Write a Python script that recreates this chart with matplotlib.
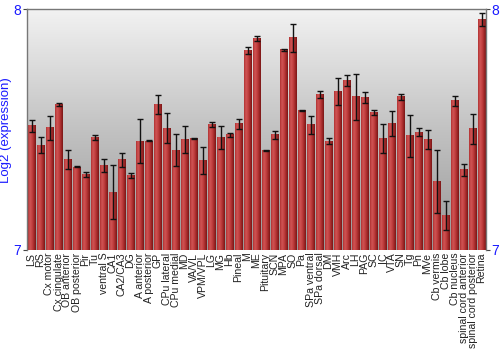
"""
Log2 expression per brain region, bar chart with error bars.
"""
import numpy as np
import matplotlib
matplotlib.use('Agg')
import matplotlib.pyplot as plt
from matplotlib.colors import LinearSegmentedColormap

regions = ['LS', 'RS', 'Cx motor', 'Cx cingulate', 'OB anterior', 'OB posterior', 'Pir', 'Tu',
           'ventral S', 'CA1', 'CA2/CA3', 'DG', 'A anterior', 'A posterior', 'GP', 'CPu lateral',
           'CPu medial', 'MD', 'VA/VL', 'VPM/VPL', 'LG', 'MG', 'Hb', 'Pineal', 'M', 'ME',
           'Pituitary', 'SCN', 'MPA', 'SO', 'Pa', 'SPa ventral', 'SPa dorsal', 'DM', 'VMH', 'Arc',
           'LH', 'PAG', 'SC', 'IC', 'VTA', 'SN', 'Tg', 'Pn', 'MVe', 'Cb vermis', 'Cb lobe',
           'Cb nucleus', 'spinal cord anterior', 'spinal cord posterior', 'Retina']

expression = [7.517, 7.435, 7.508, 7.605, 7.375, 7.345, 7.314, 7.467,
              7.350, 7.240, 7.375, 7.311, 7.453, 7.453, 7.605, 7.507,
              7.414, 7.458, 7.464, 7.371, 7.520, 7.468, 7.479, 7.525, 7.828, 7.880,
              7.412, 7.479, 7.833, 7.882, 7.580, 7.521, 7.646, 7.453, 7.658, 7.704,
              7.637, 7.633, 7.571, 7.465, 7.526, 7.637, 7.475, 7.489, 7.460, 7.285, 7.142,
              7.620, 7.333, 7.504, 7.960]

error = [0.025, 0.033, 0.050, 0.008, 0.040, 0.002, 0.010, 0.010,
         0.028, 0.113, 0.029, 0.010, 0.092, 0.002, 0.040, 0.062,
         0.067, 0.056, 0.002, 0.055, 0.010, 0.049, 0.008, 0.021, 0.015, 0.011,
         0.002, 0.017, 0.004, 0.058, 0.002, 0.037, 0.016, 0.014, 0.056, 0.022,
         0.096, 0.023, 0.010, 0.060, 0.053, 0.013, 0.088, 0.016, 0.040, 0.131, 0.061,
         0.021, 0.026, 0.063, 0.027]

y_ticks = [7, 8]

blue = '#1a1aff'

fig = plt.figure(figsize=(5, 3.5), dpi=100)
ax = fig.add_axes([0.054, 0.286, 0.918, 0.687])

ax.set_xlim(-0.5, len(regions) - 0.5)
ax.set_ylim(7, 8)

# background gradient, light at top, darker toward the bottom
bg = LinearSegmentedColormap.from_list('bg', ['#989898', '#c2c2c2', '#f2f2f2'])
ax.imshow(np.linspace(0, 1, 256).reshape(-1, 1), cmap=bg, origin='lower',
          extent=[-0.5, len(regions) - 0.5, 7, 8], aspect='auto', zorder=0)

# cylinder shading on bars
bar_cmap = LinearSegmentedColormap.from_list(
    'bar', ['#b03232', '#d05454', '#c44242', '#a42a2a', '#7a1616'])
shade = np.linspace(0, 1, 64).reshape(1, -1)
width = 0.86
for i, val in enumerate(expression):
    ax.imshow(shade, cmap=bar_cmap, extent=[i - width / 2, i + width / 2, 7, val],
              aspect='auto', zorder=2)

ax.errorbar(range(len(regions)), expression, yerr=error, fmt='none',
            ecolor='#111111', elinewidth=1.0, capsize=2.2, capthick=1.0, zorder=3)

ax.set_xticks(range(len(regions)))
ax.set_xticklabels(regions, rotation=90, fontsize=7.6, color='#222222',
                   family='Liberation Sans')
ax.tick_params(axis='x', length=0, pad=2)

ax.set_yticks(y_ticks)
ax.set_yticklabels([str(t) for t in y_ticks], fontsize=10, color=blue,
                   family='Liberation Sans')
ax.tick_params(axis='y', length=3, width=0.8, colors='#444444', labelcolor=blue,
               left=True, right=True, labelleft=True, labelright=True, pad=1)
ax.set_ylabel('Log2 (expression)', fontsize=9.5, color=blue,
              family='Liberation Sans', labelpad=1)

for side in ['top', 'right', 'left']:
    ax.spines[side].set_color('#777777')
    ax.spines[side].set_linewidth(1.0)
ax.spines['bottom'].set_visible(False)

fig.savefig('out.png', dpi=100)
